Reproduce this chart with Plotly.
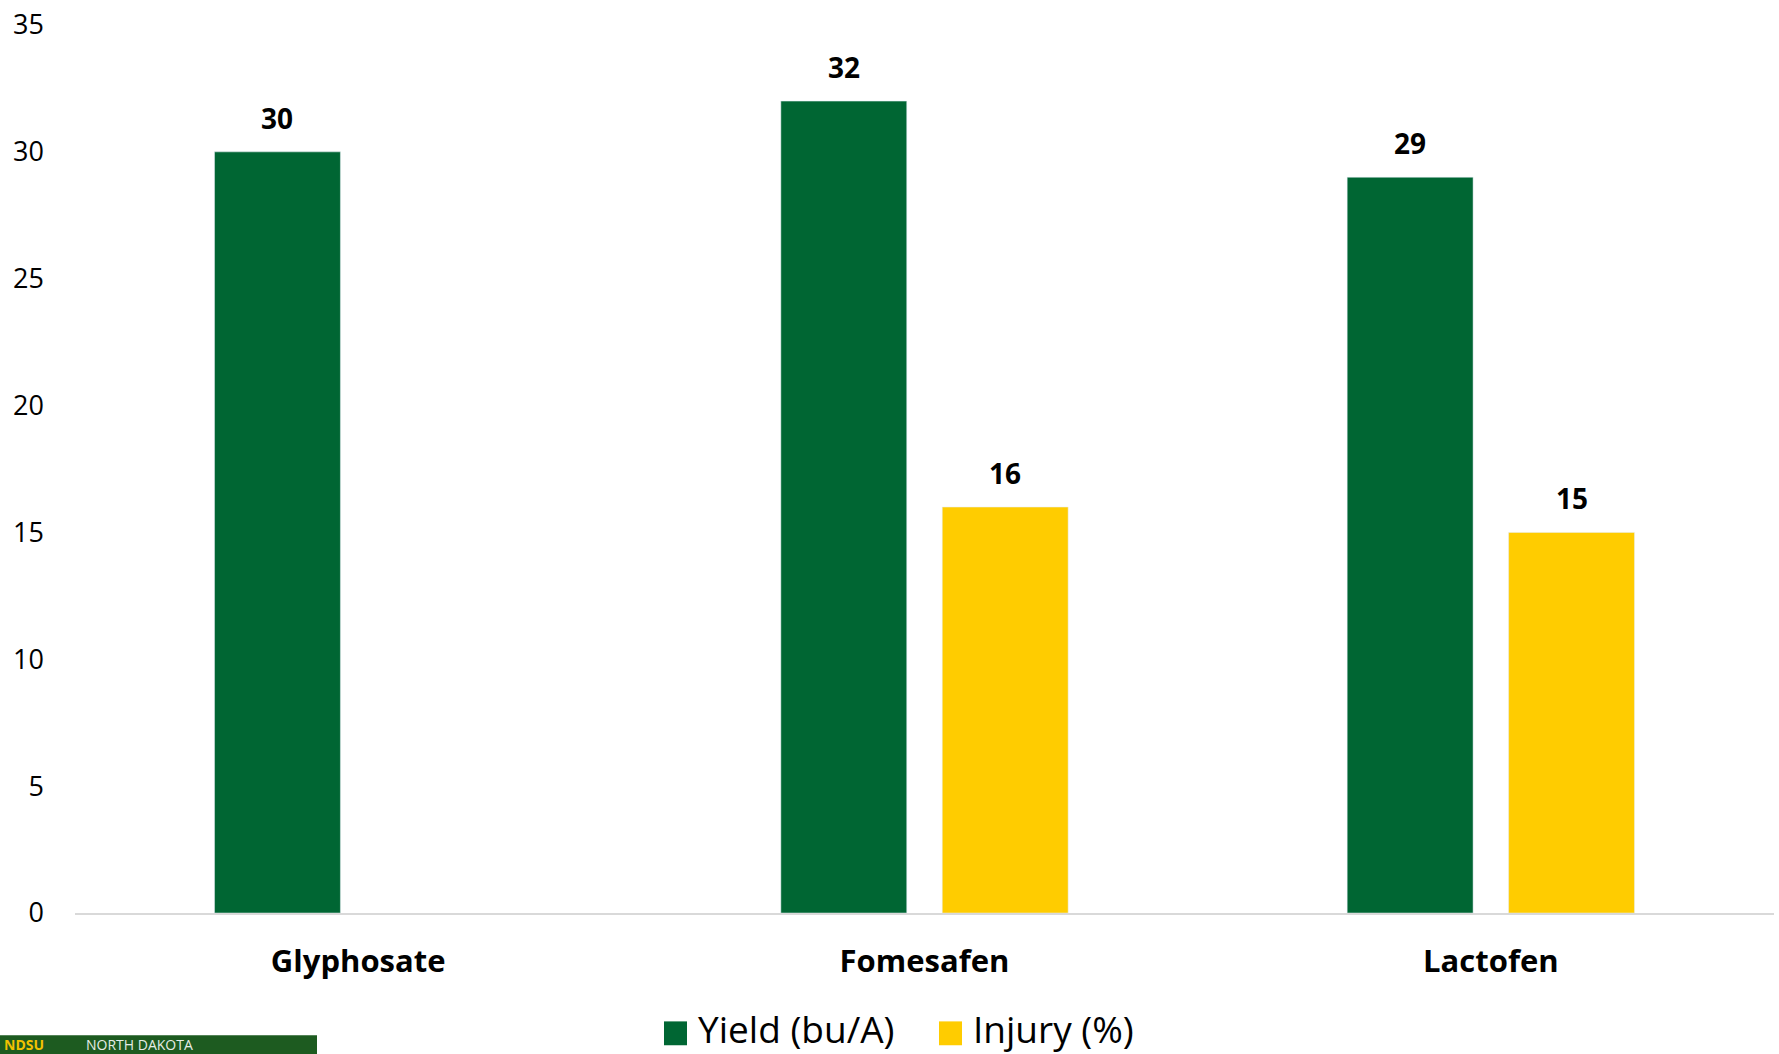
import plotly.graph_objects as go

# Herbicide treatments and measured responses
treatments = ["Glyphosate", "Fomesafen", "Lactofen"]
yield_bu_a = [30, 32, 29]
injury_pct = [None, 16, 15]

GREEN = "#006633"
YELLOW = "#FFCC00"
FONT = "'Open Sans', Lato, Arial, sans-serif"

W, H = 1779, 1054
ML, MR, MT, MB = 75, 5, 20, 141
PW, PH = W - ML - MR, H - MT - MB

BARGAP = 0.43
BARGROUPGAP = 0.22


def px(xpix):
    """Pixel x -> paper x."""
    return (xpix - ML) / PW


def py(ypix):
    """Pixel y -> paper y."""
    return (H - MB - ypix) / PH


fig = go.Figure()
fig.add_trace(go.Bar(name="Yield (bu/A)", x=treatments, y=yield_bu_a,
                     marker_color=GREEN, showlegend=False))
fig.add_trace(go.Bar(name="Injury (%)", x=treatments, y=injury_pct,
                     marker_color=YELLOW, showlegend=False))

# value labels above each bar, placed at the grouped-bar slot centres
slot = (1 - BARGAP) / 2
annotations = []
for series, shift in ((yield_bu_a, -slot / 2), (injury_pct, slot / 2)):
    for i, v in enumerate(series):
        if v is None:
            continue
        annotations.append(dict(
            x=i + shift, y=v, xref="x", yref="y", text=f"<b>{v}</b>",
            showarrow=False, yanchor="middle", yshift=34,
            font=dict(family=FONT, size=28, color="#000000")))

# legend drawn as swatches + text
shapes = []
legend_items = [("Yield (bu/A)", GREEN, 664), ("Injury (%)", YELLOW, 939)]
for label, color, x0 in legend_items:
    shapes.append(dict(type="rect", xref="paper", yref="paper",
                       x0=px(x0), x1=px(x0 + 23), y0=py(1046), y1=py(1022),
                       fillcolor=color, line_width=0))
    annotations.append(dict(x=px(x0 + 32), y=py(1029), xref="paper", yref="paper",
                            text=label, showarrow=False, xanchor="left",
                            yanchor="middle",
                            font=dict(family=FONT, size=37, color="#000000")))

# footer logo strip
shapes.append(dict(type="rect", xref="paper", yref="paper",
                   x0=px(0), x1=px(317), y0=py(1060), y1=py(1036),
                   fillcolor="#1d5b20", line_width=0))
annotations.append(dict(x=px(84), y=py(1045), xref="paper", yref="paper",
                        text="NORTH DAKOTA", showarrow=False, xanchor="left",
                        yanchor="middle",
                        font=dict(family=FONT, size=14, color="#e6ece6")))
annotations.append(dict(x=px(2), y=py(1045), xref="paper", yref="paper",
                        text="<b>NDSU</b>", showarrow=False, xanchor="left",
                        yanchor="middle",
                        font=dict(family=FONT, size=14, color="#f2c200")))

fig.update_layout(
    width=W, height=H,
    margin=dict(l=ML, r=MR, t=MT, b=MB),
    paper_bgcolor="white", plot_bgcolor="white",
    barmode="group", bargap=BARGAP, bargroupgap=BARGROUPGAP,
    showlegend=False,
    annotations=annotations, shapes=shapes,
    font=dict(family=FONT, color="#000000"),
)
fig.update_xaxes(
    showline=True, linecolor="#d9d9d9", linewidth=2,
    showgrid=False, ticks="", ticklabelstandoff=20,
    tickfont=dict(family=FONT, size=31, color="#000000", weight="bold"),
)
fig.update_yaxes(
    range=[0, 35], dtick=5, showgrid=False, zeroline=False, showline=False,
    ticks="", ticklabelstandoff=30,
    tickfont=dict(family=FONT, size=27, color="#000000"),
)

fig.write_html("out.html")
